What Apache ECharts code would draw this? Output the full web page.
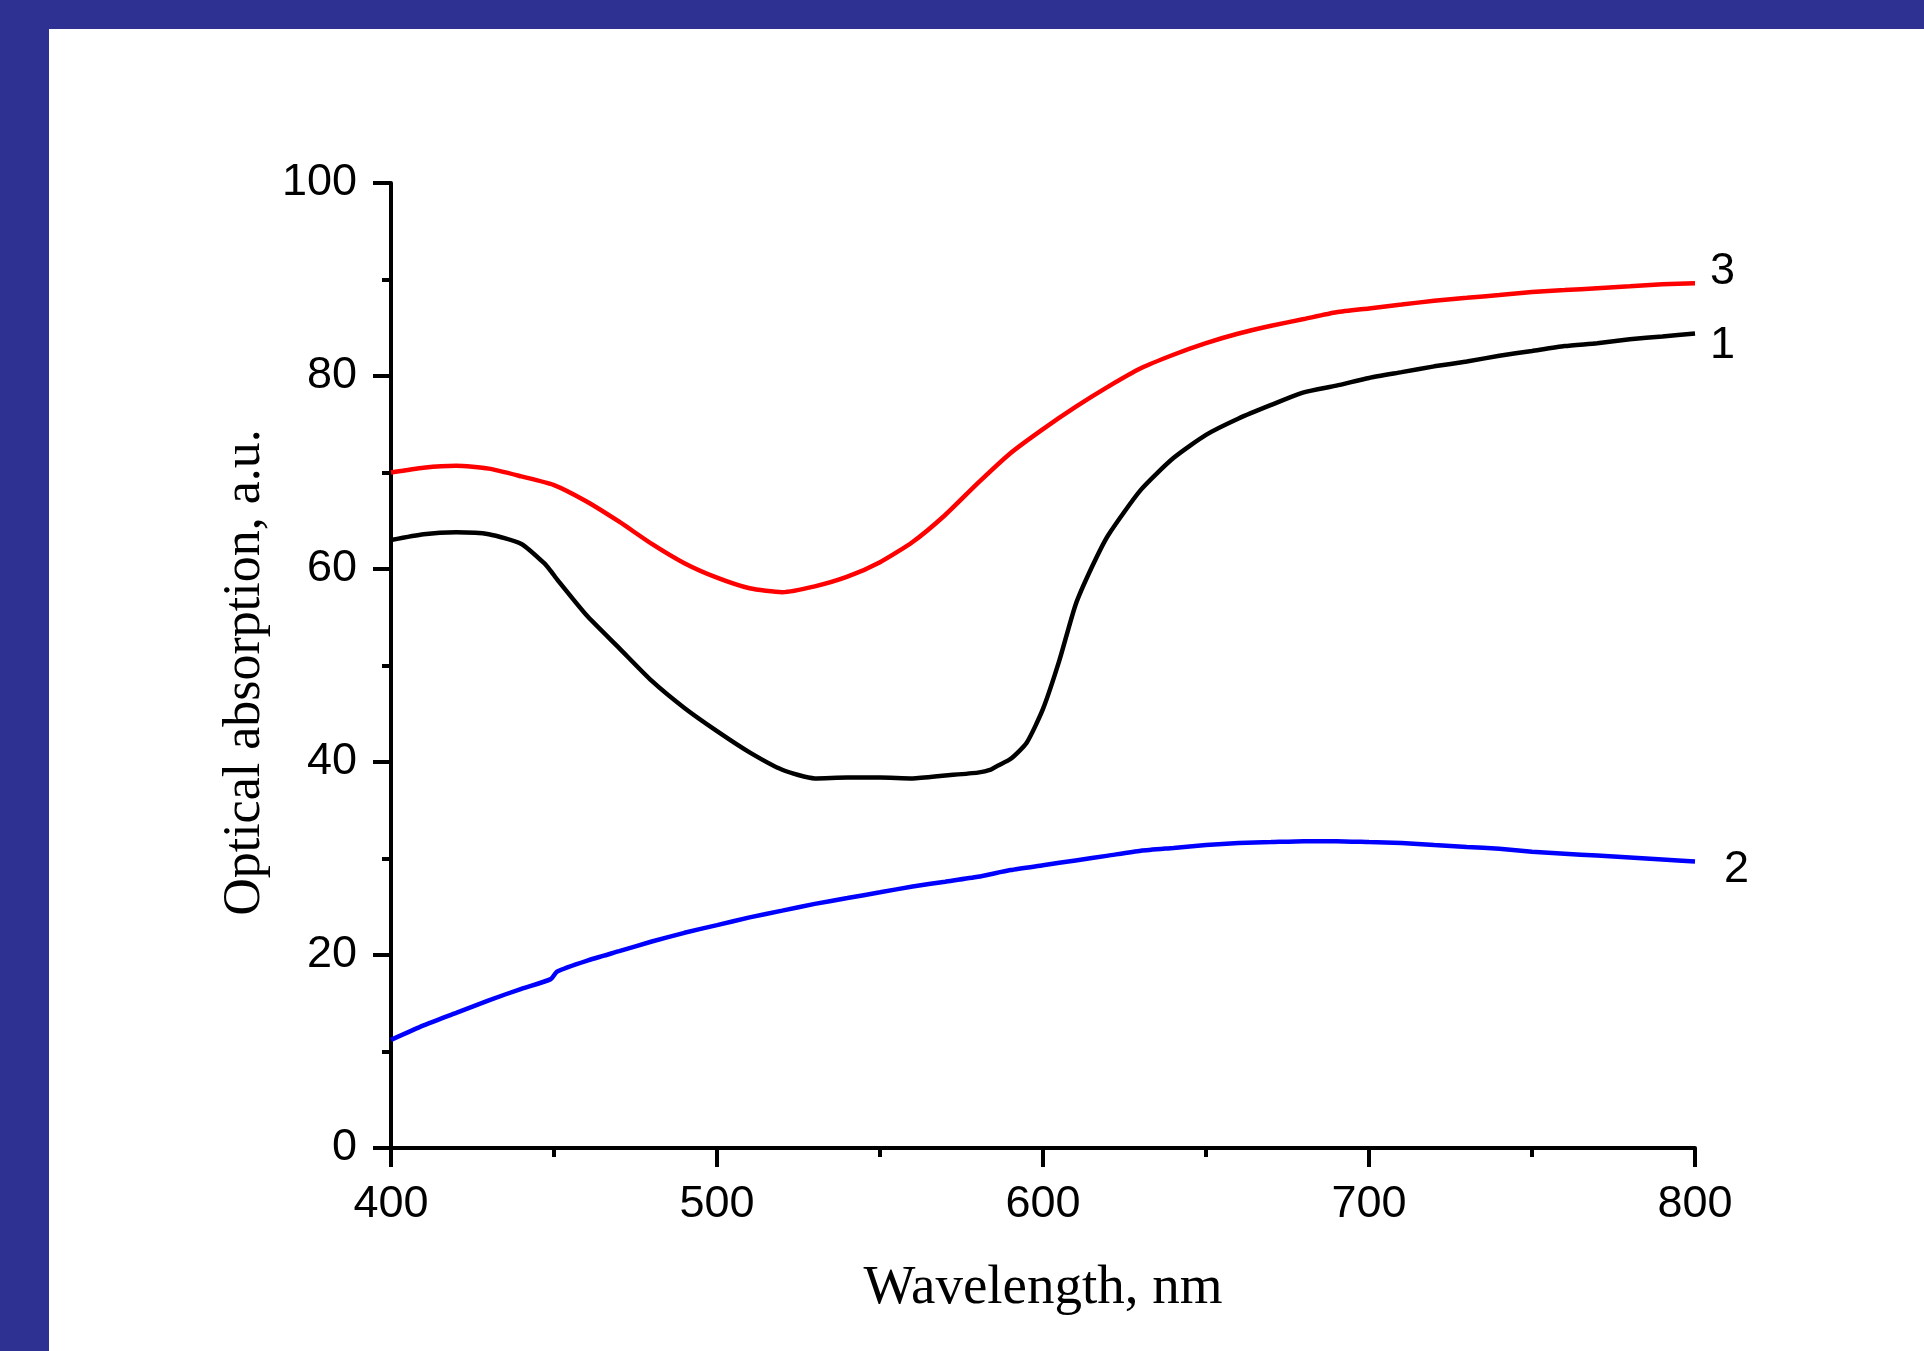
<!DOCTYPE html>
<html>
<head>
<meta charset="utf-8">
<title>Optical absorption</title>
<script src="https://cdn.jsdelivr.net/npm/echarts@6/dist/echarts.min.js"></script>
<style>
  html, body { margin: 0; padding: 0; background: #fff; }
  #chart { width: 1924px; height: 1351px; }
</style>
</head>
<body>
<div id="chart"></div>
<script>
// curve 1 (black)
var wl1 = [400, 410, 420, 430, 440, 447, 449, 451, 460, 470, 480, 490, 500, 510, 520, 530, 540, 550, 560, 570, 580, 584, 586, 590, 595, 600, 605, 610, 615, 620, 630, 640, 650, 660, 670, 680, 690, 700, 710, 720, 730, 740, 750, 760, 770, 780, 790, 800];
var abs1 = [63.0, 63.6, 63.8, 63.6, 62.6, 60.6, 59.8, 58.9, 55.2, 51.8, 48.4, 45.6, 43.2, 41.0, 39.2, 38.3, 38.4, 38.4, 38.3, 38.6, 38.9, 39.2, 39.6, 40.3, 42.0, 45.5, 50.5, 56.3, 60.2, 63.5, 68.2, 71.5, 73.9, 75.6, 77.0, 78.3, 79.0, 79.8, 80.4, 81.0, 81.5, 82.1, 82.6, 83.1, 83.4, 83.8, 84.1, 84.4];

// curve 2 (blue)
var wl2 = [400, 410, 420, 430, 440, 449, 451, 460, 470, 480, 490, 500, 510, 520, 530, 540, 550, 560, 570, 580, 590, 600, 610, 620, 630, 640, 650, 660, 670, 680, 690, 700, 710, 720, 730, 740, 750, 760, 770, 780, 790, 800];
var abs2 = [11.2, 12.7, 14.0, 15.3, 16.5, 17.5, 18.3, 19.4, 20.4, 21.4, 22.3, 23.1, 23.9, 24.6, 25.3, 25.9, 26.5, 27.1, 27.6, 28.1, 28.8, 29.3, 29.8, 30.3, 30.8, 31.1, 31.4, 31.6, 31.7, 31.8, 31.8, 31.7, 31.6, 31.4, 31.2, 31.0, 30.7, 30.5, 30.3, 30.1, 29.9, 29.7];

// curve 3 (red)
var wl3 = [400, 410, 420, 430, 440, 450, 460, 470, 480, 490, 500, 510, 520, 530, 540, 550, 560, 570, 580, 590, 600, 610, 620, 630, 640, 650, 660, 670, 680, 690, 700, 710, 720, 730, 740, 750, 760, 770, 780, 790, 800];
var abs3 = [70.0, 70.5, 70.7, 70.4, 69.6, 68.7, 67.0, 64.9, 62.6, 60.6, 59.1, 58.0, 57.6, 58.2, 59.2, 60.7, 62.8, 65.6, 68.9, 72.0, 74.5, 76.8, 78.9, 80.8, 82.2, 83.4, 84.4, 85.2, 85.9, 86.6, 87.0, 87.4, 87.8, 88.1, 88.4, 88.7, 88.9, 89.1, 89.3, 89.5, 89.6];

var xTicks = [400, 500, 600, 700, 800];
var yTicks = [0, 20, 40, 60, 80, 100];

function pairs(xs, ys) {
  return xs.map(function (x, i) { return [x, ys[i]]; });
}

var chart = echarts.init(document.getElementById('chart'));

var numFont = { fontFamily: '"Liberation Sans", Arial, sans-serif', fontSize: 45, color: '#000' };
var titleFont = { fontFamily: '"Liberation Serif", "Times New Roman", serif', color: '#000' };

function curve(name, data, color, lbl, offset) {
  return {
    name: name,
    type: 'line',
    data: data,
    showSymbol: false,
    smooth: 0.2,
    lineStyle: { color: color, width: 4.5 },
    endLabel: {
      show: true,
      formatter: lbl,
      distance: 15,
      offset: offset,
      fontFamily: numFont.fontFamily,
      fontSize: 45,
      color: '#000'
    }
  };
}

var option = {
  animation: false,
  backgroundColor: '#fff',
  graphic: [
    { type: 'rect', left: 0, top: 0, shape: { width: 1924, height: 29 }, style: { fill: '#2E3192' } },
    { type: 'rect', left: 0, top: 0, shape: { width: 49, height: 1351 }, style: { fill: '#2E3192' } }
  ],
  grid: { left: 391, right: 229, top: 183, bottom: 203 },
  xAxis: {
    type: 'value',
    min: xTicks[0],
    max: xTicks[xTicks.length - 1],
    interval: 100,
    name: 'Wavelength, nm',
    nameLocation: 'middle',
    nameGap: 113,
    nameTextStyle: Object.assign({ fontSize: 55 }, titleFont),
    axisLine: { show: true, lineStyle: { color: '#000', width: 4 } },
    axisTick: { show: true, length: 19, lineStyle: { color: '#000', width: 4 } },
    minorTick: { show: true, splitNumber: 2, length: 9, lineStyle: { color: '#000', width: 4 } },
    splitLine: { show: false },
    axisLabel: Object.assign({ margin: 34 }, numFont)
  },
  yAxis: {
    type: 'value',
    min: yTicks[0],
    max: yTicks[yTicks.length - 1],
    interval: 20,
    name: 'Optical absorption, a.u.',
    nameLocation: 'middle',
    nameGap: 103,
    nameTextStyle: Object.assign({ fontSize: 52, padding: [0, 14, 0, 0] }, titleFont),
    axisLine: { show: true, lineStyle: { color: '#000', width: 4 } },
    axisTick: { show: true, length: 18, lineStyle: { color: '#000', width: 4 } },
    minorTick: { show: true, splitNumber: 2, length: 9, lineStyle: { color: '#000', width: 4 } },
    splitLine: { show: false },
    axisLabel: Object.assign({ margin: 34 }, numFont)
  },
  series: [
    curve('1', pairs(wl1, abs1), '#000000', '1', [0, 12]),
    curve('2', pairs(wl2, abs2), '#0000FF', '2', [14, 8]),
    curve('3', pairs(wl3, abs3), '#FF0000', '3', [0, -12])
  ]
};

chart.setOption(option);
</script>
</body>
</html>
